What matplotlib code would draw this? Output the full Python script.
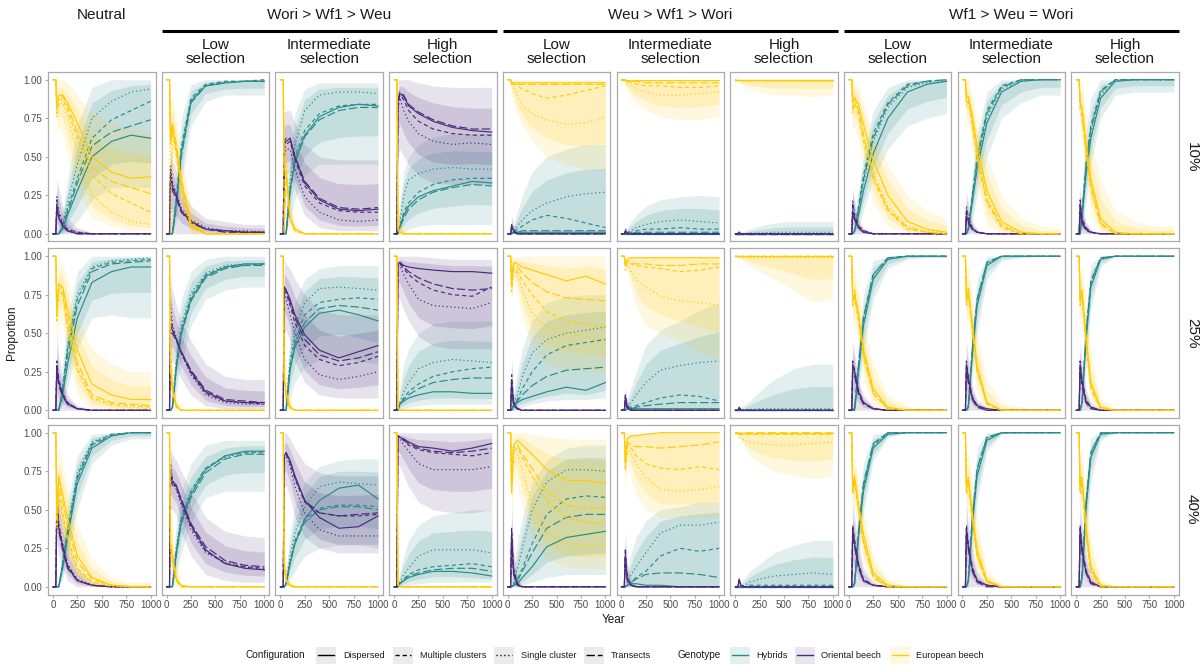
import numpy as np
import matplotlib
matplotlib.use("Agg")
import matplotlib.pyplot as plt
from matplotlib.patches import Rectangle

plt.rcParams["font.family"] = ["Liberation Sans", "DejaVu Sans"]
plt.rcParams["lines.scale_dashes"] = False

# simulation years at which the mean proportions were taken
years = [0, 30, 40, 60, 100, 150, 250, 400, 600, 800, 1000]

# each genotype block holds: Dispersed, Multiple clusters, Single cluster,
# Transects, then the lower and upper edge of the replicate spread

# ---------------- 10 % ----------------
neu_10_hyb = [
    [0, 0, 0, 0, 0.03, 0.12, 0.28, 0.50, 0.60, 0.64, 0.62],
    [0, 0, 0, 0, 0.05, 0.16, 0.36, 0.62, 0.74, 0.80, 0.86],
    [0, 0, 0, 0, 0.06, 0.20, 0.45, 0.75, 0.86, 0.92, 0.94],
    [0, 0, 0, 0, 0.04, 0.14, 0.33, 0.57, 0.66, 0.70, 0.74],
    [0, 0, 0, 0, 0, 0.02, 0.08, 0.22, 0.30, 0.30, 0.30],
    [0, 0, 0, 0.04, 0.15, 0.35, 0.70, 0.95, 1, 1, 1],
]
neu_10_ori = [
    [0, 0, 0.18, 0.10, 0.05, 0.02, 0, 0, 0, 0, 0],
    [0, 0, 0.22, 0.13, 0.06, 0.03, 0.01, 0, 0, 0, 0],
    [0, 0, 0.24, 0.15, 0.08, 0.03, 0.01, 0, 0, 0, 0],
    [0, 0, 0.15, 0.11, 0.05, 0.02, 0, 0, 0, 0, 0],
    [0, 0, 0, 0, 0, 0, 0, 0, 0, 0, 0],
    [0, 0, 0.35, 0.30, 0.18, 0.10, 0.04, 0.01, 0, 0, 0],
]
neu_10_eur = [
    [1, 1, 0.82, 0.90, 0.90, 0.85, 0.72, 0.50, 0.40, 0.36, 0.37],
    [1, 1, 0.78, 0.86, 0.88, 0.80, 0.62, 0.38, 0.26, 0.20, 0.14],
    [1, 1, 0.76, 0.84, 0.85, 0.76, 0.54, 0.25, 0.14, 0.08, 0.06],
    [1, 1, 0.85, 0.88, 0.90, 0.83, 0.66, 0.43, 0.34, 0.30, 0.26],
    [1, 1, 0.65, 0.70, 0.65, 0.50, 0.28, 0.10, 0.05, 0.02, 0.02],
    [1, 1, 1, 1, 1, 0.98, 0.90, 0.78, 0.72, 0.68, 0.66],
]

wori_lo_10_hyb = [
    [0, 0, 0, 0, 0.20, 0.52, 0.86, 0.96, 0.98, 0.99, 0.99],
    [0, 0, 0, 0.01, 0.24, 0.56, 0.88, 0.97, 0.99, 0.99, 1],
    [0, 0, 0, 0.01, 0.22, 0.54, 0.87, 0.96, 0.98, 0.99, 0.99],
    [0, 0, 0, 0, 0.18, 0.50, 0.85, 0.96, 0.98, 0.99, 0.99],
    [0, 0, 0, 0, 0.08, 0.32, 0.70, 0.86, 0.90, 0.90, 0.90],
    [0, 0, 0, 0.08, 0.40, 0.75, 0.97, 1, 1, 1, 1],
]
wori_lo_10_ori = [
    [0, 0, 0.40, 0.30, 0.25, 0.15, 0.08, 0.03, 0.02, 0.01, 0.01],
    [0, 0, 0.42, 0.32, 0.24, 0.15, 0.08, 0.03, 0.02, 0.01, 0.01],
    [0, 0, 0.45, 0.34, 0.26, 0.17, 0.09, 0.04, 0.02, 0.02, 0.01],
    [0, 0, 0.36, 0.28, 0.23, 0.14, 0.07, 0.03, 0.01, 0.01, 0.01],
    [0, 0, 0, 0, 0, 0, 0, 0, 0, 0, 0],
    [0, 0, 0.55, 0.48, 0.40, 0.30, 0.18, 0.10, 0.08, 0.06, 0.06],
]
wori_lo_10_eur = [
    [1, 1, 0.60, 0.70, 0.55, 0.33, 0.06, 0, 0, 0, 0],
    [1, 1, 0.58, 0.68, 0.52, 0.29, 0.04, 0, 0, 0, 0],
    [1, 1, 0, 0.66, 0.53, 0.30, 0.04, 0, 0, 0, 0],
    [1, 1, 0.62, 0.72, 0.58, 0.36, 0.07, 0, 0, 0, 0],
    [1, 1, 0.30, 0.50, 0.35, 0.15, 0, 0, 0, 0, 0],
    [1, 1, 0.85, 0.88, 0.75, 0.52, 0.18, 0.02, 0, 0, 0],
]

wori_mid_10_hyb = [
    [0, 0, 0, 0, 0.28, 0.47, 0.64, 0.76, 0.82, 0.84, 0.83],
    [0, 0, 0, 0, 0.30, 0.50, 0.67, 0.78, 0.83, 0.84, 0.84],
    [0, 0, 0, 0.02, 0.35, 0.58, 0.80, 0.90, 0.92, 0.92, 0.91],
    [0, 0, 0, 0, 0.27, 0.46, 0.63, 0.74, 0.80, 0.82, 0.82],
    [0, 0, 0, 0, 0.10, 0.22, 0.38, 0.45, 0.45, 0.45, 0.45],
    [0, 0, 0, 0.15, 0.55, 0.78, 0.94, 0.98, 0.98, 0.98, 0.98],
]
wori_mid_10_ori = [
    [0, 0, 0.58, 0.60, 0.62, 0.50, 0.33, 0.22, 0.16, 0.15, 0.16],
    [0, 0, 0.55, 0.58, 0.60, 0.48, 0.31, 0.20, 0.15, 0.14, 0.14],
    [0, 0, 0.50, 0.55, 0.55, 0.42, 0.24, 0.14, 0.09, 0.08, 0.09],
    [0, 0, 0.60, 0.62, 0.62, 0.50, 0.34, 0.23, 0.17, 0.16, 0.17],
    [0, 0, 0.35, 0.38, 0.40, 0.28, 0.12, 0.04, 0.02, 0.02, 0.02],
    [0, 0, 0.78, 0.80, 0.80, 0.72, 0.58, 0.50, 0.48, 0.48, 0.48],
]
wori_mid_10_eur = [
    [1, 1, 0.42, 0.40, 0.10, 0.03, 0, 0, 0, 0, 0],
    [1, 1, 0.45, 0.42, 0.10, 0.02, 0, 0, 0, 0, 0],
    [1, 1, 0.50, 0.43, 0.10, 0.02, 0, 0, 0, 0, 0],
    [1, 1, 0, 0.38, 0.11, 0.03, 0, 0, 0, 0, 0],
    [1, 1, 0.20, 0.20, 0.02, 0, 0, 0, 0, 0, 0],
    [1, 1, 0.70, 0.60, 0.25, 0.06, 0, 0, 0, 0, 0],
]

wori_hi_10_hyb = [
    [0, 0, 0, 0.04, 0.12, 0.18, 0.24, 0.28, 0.31, 0.34, 0.33],
    [0, 0, 0, 0.05, 0.14, 0.20, 0.27, 0.32, 0.35, 0.36, 0.36],
    [0, 0, 0, 0.07, 0.25, 0.35, 0.39, 0.42, 0.43, 0.42, 0.42],
    [0, 0, 0, 0.04, 0.10, 0.16, 0.22, 0.27, 0.30, 0.32, 0.31],
    [0, 0, 0, 0, 0.01, 0.03, 0.05, 0.06, 0.06, 0.06, 0.06],
    [0, 0, 0, 0.22, 0.40, 0.50, 0.58, 0.63, 0.65, 0.65, 0.65],
]
wori_hi_10_ori = [
    [0, 0, 0.86, 0.91, 0.89, 0.83, 0.78, 0.73, 0.69, 0.67, 0.66],
    [0, 0, 0.84, 0.90, 0.87, 0.80, 0.73, 0.68, 0.65, 0.64, 0.64],
    [0, 0, 0.80, 0.88, 0.80, 0.73, 0.65, 0.60, 0.58, 0.59, 0.58],
    [0, 0, 0.86, 0.92, 0.90, 0.84, 0.79, 0.74, 0.70, 0.68, 0.68],
    [0, 0, 0.50, 0.55, 0.50, 0.45, 0.38, 0.33, 0.32, 0.32, 0.32],
    [0, 0, 1, 1, 1, 1, 0.98, 0.96, 0.95, 0.95, 0.95],
]
wori_hi_10_eur = [
    [1, 1, 0.05, 0.01, 0, 0, 0, 0, 0, 0, 0],
    [1, 1, 0.04, 0.01, 0, 0, 0, 0, 0, 0, 0],
    [1, 1, 0.15, 0.05, 0, 0, 0, 0, 0, 0, 0],
    [1, 1, 0.03, 0, 0, 0, 0, 0, 0, 0, 0],
    [1, 1, 0, 0, 0, 0, 0, 0, 0, 0, 0],
    [1, 1, 0.30, 0.10, 0, 0, 0, 0, 0, 0, 0],
]

weu_lo_10_hyb = [
    [0, 0, 0, 0.01, 0.01, 0.01, 0.01, 0.01, 0.01, 0.01, 0.01],
    [0, 0, 0, 0.01, 0.03, 0.05, 0.09, 0.12, 0.10, 0.07, 0.04],
    [0, 0, 0, 0.02, 0.05, 0.09, 0.15, 0.20, 0.24, 0.26, 0.27],
    [0, 0, 0, 0.01, 0.01, 0.02, 0.02, 0.02, 0.02, 0.02, 0.02],
    [0, 0, 0, 0, 0, 0, 0, 0, 0, 0, 0],
    [0, 0, 0, 0.06, 0.15, 0.25, 0.40, 0.50, 0.55, 0.58, 0.58],
]
weu_lo_10_ori = [
    [0, 0, 0.06, 0.02, 0, 0, 0, 0, 0, 0, 0],
    [0, 0, 0.04, 0.01, 0, 0, 0, 0, 0, 0, 0],
    [0, 0, 0.05, 0.02, 0, 0, 0, 0, 0, 0, 0],
    [0, 0, 0.03, 0.01, 0, 0, 0, 0, 0, 0, 0],
    [0, 0, 0, 0, 0, 0, 0, 0, 0, 0, 0],
    [0, 0, 0.12, 0.06, 0.02, 0, 0, 0, 0, 0, 0],
]
weu_lo_10_eur = [
    [1, 1, 0.97, 0.98, 0.98, 0.98, 0.98, 0.98, 0.98, 0.98, 0.98],
    [1, 1, 0.98, 0.97, 0.96, 0.94, 0.91, 0.88, 0.90, 0.93, 0.96],
    [1, 1, 0.97, 0.95, 0.89, 0.83, 0.78, 0.74, 0.71, 0.72, 0.76],
    [1, 1, 0.98, 0.98, 0.97, 0.97, 0.97, 0.97, 0.97, 0.97, 0.97],
    [1, 1, 0.90, 0.85, 0.78, 0.70, 0.60, 0.50, 0.45, 0.42, 0.42],
    [1, 1, 1, 1, 1, 1, 1, 1, 1, 1, 1],
]

weu_mid_10_hyb = [
    [0, 0, 0, 0, 0, 0, 0, 0, 0, 0, 0],
    [0, 0, 0, 0, 0.01, 0.02, 0.03, 0.03, 0.04, 0.03, 0.03],
    [0, 0, 0, 0.01, 0.02, 0.04, 0.06, 0.08, 0.09, 0.08, 0.07],
    [0, 0, 0, 0, 0, 0.01, 0.01, 0.01, 0.01, 0.01, 0.01],
    [0, 0, 0, 0, 0, 0, 0, 0, 0, 0, 0],
    [0, 0, 0, 0.04, 0.08, 0.12, 0.18, 0.22, 0.24, 0.25, 0.24],
]
weu_mid_10_ori = [
    [0, 0, 0.02, 0, 0, 0, 0, 0, 0, 0, 0],
    [0, 0, 0.02, 0, 0, 0, 0, 0, 0, 0, 0],
    [0, 0, 0.03, 0.01, 0, 0, 0, 0, 0, 0, 0],
    [0, 0, 0.01, 0, 0, 0, 0, 0, 0, 0, 0],
    [0, 0, 0, 0, 0, 0, 0, 0, 0, 0, 0],
    [0, 0, 0.05, 0.02, 0, 0, 0, 0, 0, 0, 0],
]
weu_mid_10_eur = [
    [1, 1, 1, 1, 1, 1, 1, 1, 1, 1, 1],
    [1, 1, 0.99, 0.99, 0.98, 0.97, 0.96, 0.96, 0.95, 0.95, 0.96],
    [1, 1, 0.99, 0.97, 0.96, 0.94, 0.92, 0.90, 0.90, 0.91, 0.92],
    [1, 1, 1, 0.99, 0.99, 0.99, 0.98, 0.98, 0.98, 0.98, 0.98],
    [1, 1, 0.97, 0.93, 0.88, 0.85, 0.80, 0.76, 0.74, 0.74, 0.76],
    [1, 1, 1, 1, 1, 1, 1, 1, 1, 1, 1],
]

weu_hi_10_hyb = [
    [0, 0, 0, 0, 0, 0, 0, 0, 0, 0, 0],
    [0, 0, 0, 0, 0, 0, 0, 0, 0, 0, 0],
    [0, 0, 0, 0, 0, 0.005, 0.005, 0.01, 0.01, 0.01, 0.01],
    [0, 0, 0, 0, 0, 0, 0, 0, 0, 0, 0],
    [0, 0, 0, 0, 0, 0, 0, 0, 0, 0, 0],
    [0, 0, 0, 0.01, 0.02, 0.03, 0.05, 0.07, 0.08, 0.08, 0.08],
]
weu_hi_10_ori = [
    [0, 0, 0.01, 0, 0, 0, 0, 0, 0, 0, 0],
    [0, 0, 0.01, 0, 0, 0, 0, 0, 0, 0, 0],
    [0, 0, 0.01, 0, 0, 0, 0, 0, 0, 0, 0],
    [0, 0, 0, 0, 0, 0, 0, 0, 0, 0, 0],
    [0, 0, 0, 0, 0, 0, 0, 0, 0, 0, 0],
    [0, 0, 0.03, 0.01, 0, 0, 0, 0, 0, 0, 0],
]
weu_hi_10_eur = [
    [1, 1, 1, 1, 1, 1, 1, 1, 1, 1, 1],
    [1, 1, 1, 1, 1, 1, 1, 1, 1, 1, 1],
    [1, 1, 1, 0.99, 0.99, 0.99, 0.99, 0.99, 0.99, 0.99, 0.99],
    [1, 1, 1, 1, 1, 1, 1, 1, 1, 1, 1],
    [1, 1, 0.98, 0.97, 0.95, 0.94, 0.92, 0.90, 0.90, 0.89, 0.90],
    [1, 1, 1, 1, 1, 1, 1, 1, 1, 1, 1],
]

wf1_lo_10_hyb = [
    [0, 0, 0, 0.02, 0.12, 0.28, 0.52, 0.75, 0.92, 0.97, 0.99],
    [0, 0, 0, 0.03, 0.18, 0.38, 0.65, 0.85, 0.97, 0.99, 1],
    [0, 0, 0, 0.02, 0.15, 0.33, 0.60, 0.82, 0.95, 0.98, 0.99],
    [0, 0, 0, 0.02, 0.16, 0.35, 0.62, 0.84, 0.96, 0.99, 1],
    [0, 0, 0, 0, 0.05, 0.15, 0.35, 0.55, 0.70, 0.75, 0.78],
    [0, 0, 0, 0.08, 0.30, 0.50, 0.80, 0.95, 1, 1, 1],
]
wf1_lo_10_ori = [
    [0, 0, 0.15, 0.10, 0.04, 0.01, 0, 0, 0, 0, 0],
    [0, 0, 0.20, 0.12, 0.05, 0.02, 0, 0, 0, 0, 0],
    [0, 0, 0.22, 0.13, 0.05, 0.02, 0, 0, 0, 0, 0],
    [0, 0, 0.12, 0.09, 0.04, 0.01, 0, 0, 0, 0, 0],
    [0, 0, 0, 0, 0, 0, 0, 0, 0, 0, 0],
    [0, 0, 0.30, 0.22, 0.10, 0.04, 0.01, 0, 0, 0, 0],
]
wf1_lo_10_eur = [
    [1, 1, 0.85, 0.88, 0.84, 0.71, 0.48, 0.25, 0.08, 0.03, 0.01],
    [1, 1, 0.80, 0.85, 0.77, 0.60, 0.35, 0.15, 0.03, 0.01, 0],
    [1, 1, 0.78, 0.85, 0.80, 0.65, 0.40, 0.18, 0.05, 0.02, 0.01],
    [1, 1, 0.88, 0.89, 0.80, 0.64, 0.38, 0.16, 0.04, 0.01, 0],
    [1, 1, 0.65, 0.70, 0.60, 0.45, 0.20, 0.05, 0, 0, 0],
    [1, 1, 1, 1, 0.95, 0.85, 0.65, 0.45, 0.25, 0.15, 0.10],
]

wf1_mid_10_hyb = [
    [0, 0, 0, 0.03, 0.20, 0.42, 0.72, 0.92, 0.99, 1, 1],
    [0, 0, 0, 0.04, 0.25, 0.50, 0.80, 0.96, 1, 1, 1],
    [0, 0, 0, 0.03, 0.22, 0.45, 0.75, 0.94, 0.99, 1, 1],
    [0, 0, 0, 0.04, 0.24, 0.48, 0.78, 0.95, 1, 1, 1],
    [0, 0, 0, 0, 0.08, 0.25, 0.50, 0.75, 0.85, 0.90, 0.90],
    [0, 0, 0, 0.10, 0.40, 0.65, 0.92, 1, 1, 1, 1],
]
wf1_mid_10_ori = [
    [0, 0, 0.12, 0.08, 0.03, 0.01, 0, 0, 0, 0, 0],
    [0, 0, 0.16, 0.10, 0.04, 0.01, 0, 0, 0, 0, 0],
    [0, 0, 0.18, 0.11, 0.04, 0.01, 0, 0, 0, 0, 0],
    [0, 0, 0.10, 0.07, 0.03, 0.01, 0, 0, 0, 0, 0],
    [0, 0, 0, 0, 0, 0, 0, 0, 0, 0, 0],
    [0, 0, 0.28, 0.20, 0.08, 0.03, 0, 0, 0, 0, 0],
]
wf1_mid_10_eur = [
    [1, 1, 0.88, 0.89, 0.77, 0.57, 0.28, 0.08, 0.01, 0, 0],
    [1, 1, 0.84, 0.86, 0.71, 0.49, 0.20, 0.04, 0, 0, 0],
    [1, 1, 0.82, 0.86, 0.74, 0.54, 0.25, 0.06, 0.01, 0, 0],
    [1, 1, 0.90, 0.89, 0.73, 0.51, 0.22, 0.05, 0, 0, 0],
    [1, 1, 0.70, 0.72, 0.55, 0.30, 0.06, 0, 0, 0, 0],
    [1, 1, 1, 1, 0.90, 0.75, 0.50, 0.25, 0.10, 0.05, 0.03],
]

wf1_hi_10_hyb = [
    [0, 0, 0, 0.10, 0.38, 0.62, 0.88, 0.99, 1, 1, 1],
    [0, 0, 0, 0.14, 0.45, 0.70, 0.93, 1, 1, 1, 1],
    [0, 0, 0, 0.12, 0.42, 0.66, 0.90, 0.99, 1, 1, 1],
    [0, 0, 0, 0.13, 0.44, 0.68, 0.92, 1, 1, 1, 1],
    [0, 0, 0, 0.02, 0.20, 0.45, 0.75, 0.90, 0.92, 0.92, 0.92],
    [0, 0, 0, 0.30, 0.65, 0.88, 1, 1, 1, 1, 1],
]
wf1_hi_10_ori = [
    [0, 0, 0.18, 0.08, 0.03, 0.01, 0, 0, 0, 0, 0],
    [0, 0, 0.22, 0.10, 0.04, 0.01, 0, 0, 0, 0, 0],
    [0, 0, 0.20, 0.09, 0.03, 0.01, 0, 0, 0, 0, 0],
    [0, 0, 0.14, 0.07, 0.02, 0.01, 0, 0, 0, 0, 0],
    [0, 0, 0, 0, 0, 0, 0, 0, 0, 0, 0],
    [0, 0, 0.32, 0.18, 0.08, 0.03, 0, 0, 0, 0, 0],
]
wf1_hi_10_eur = [
    [1, 1, 0.85, 0.82, 0.60, 0.36, 0.10, 0.01, 0, 0, 0],
    [1, 1, 0.80, 0.76, 0.52, 0.29, 0.06, 0, 0, 0, 0],
    [1, 1, 0.82, 0.79, 0.56, 0.33, 0.09, 0.01, 0, 0, 0],
    [1, 1, 0.86, 0.80, 0.54, 0.31, 0.07, 0, 0, 0, 0],
    [1, 1, 0.65, 0.60, 0.35, 0.12, 0, 0, 0, 0, 0],
    [1, 1, 1, 0.98, 0.80, 0.60, 0.35, 0.15, 0.08, 0.05, 0.05],
]

# ---------------- 25 % ----------------
neu_25_hyb = [
    [0, 0, 0, 0, 0.10, 0.30, 0.60, 0.83, 0.90, 0.93, 0.93],
    [0, 0, 0, 0, 0.14, 0.40, 0.72, 0.92, 0.96, 0.97, 0.98],
    [0, 0, 0, 0, 0.15, 0.42, 0.75, 0.93, 0.97, 0.98, 0.99],
    [0, 0, 0, 0, 0.12, 0.36, 0.68, 0.90, 0.95, 0.96, 0.97],
    [0, 0, 0, 0, 0.03, 0.15, 0.40, 0.60, 0.62, 0.60, 0.60],
    [0, 0, 0, 0.05, 0.30, 0.60, 0.90, 1, 1, 1, 1],
]
neu_25_ori = [
    [0, 0, 0.28, 0.18, 0.10, 0.04, 0.01, 0, 0, 0, 0],
    [0, 0, 0.32, 0.20, 0.11, 0.05, 0.01, 0, 0, 0, 0],
    [0, 0, 0.30, 0.19, 0.10, 0.05, 0.01, 0, 0, 0, 0],
    [0, 0, 0.25, 0.16, 0.09, 0.04, 0.01, 0, 0, 0, 0],
    [0, 0, 0, 0, 0, 0, 0, 0, 0, 0, 0],
    [0, 0, 0.50, 0.35, 0.20, 0.10, 0.03, 0.01, 0, 0, 0],
]
neu_25_eur = [
    [1, 1, 0.62, 0.82, 0.80, 0.66, 0.39, 0.17, 0.10, 0.07, 0.07],
    [1, 1, 0.58, 0.78, 0.75, 0.55, 0.27, 0.08, 0.04, 0.03, 0.02],
    [1, 1, 0.60, 0.80, 0.75, 0.53, 0.25, 0.07, 0.03, 0.02, 0.01],
    [1, 1, 0.65, 0.82, 0.79, 0.60, 0.31, 0.10, 0.05, 0.04, 0.03],
    [1, 1, 0.40, 0.60, 0.55, 0.35, 0.10, 0.01, 0, 0, 0],
    [1, 1, 0.85, 0.98, 0.95, 0.85, 0.60, 0.40, 0.30, 0.25, 0.25],
]

wori_lo_25_hyb = [
    [0, 0, 0, 0.02, 0.28, 0.50, 0.72, 0.87, 0.93, 0.95, 0.95],
    [0, 0, 0, 0.02, 0.30, 0.52, 0.74, 0.88, 0.93, 0.94, 0.95],
    [0, 0, 0, 0.03, 0.32, 0.55, 0.76, 0.89, 0.94, 0.95, 0.95],
    [0, 0, 0, 0.02, 0.27, 0.49, 0.71, 0.86, 0.92, 0.94, 0.94],
    [0, 0, 0, 0, 0.12, 0.30, 0.55, 0.72, 0.78, 0.80, 0.80],
    [0, 0, 0, 0.10, 0.50, 0.72, 0.90, 0.98, 1, 1, 1],
]
wori_lo_25_ori = [
    [0, 0, 0.55, 0.52, 0.46, 0.38, 0.25, 0.12, 0.06, 0.05, 0.05],
    [0, 0, 0.60, 0.54, 0.46, 0.37, 0.24, 0.11, 0.06, 0.05, 0.04],
    [0, 0, 0.70, 0.56, 0.47, 0.37, 0.23, 0.10, 0.05, 0.04, 0.04],
    [0, 0, 0.50, 0.50, 0.45, 0.38, 0.26, 0.13, 0.07, 0.06, 0.05],
    [0, 0, 0.30, 0.32, 0.28, 0.20, 0.10, 0.03, 0.01, 0.01, 0.01],
    [0, 0, 0.85, 0.78, 0.68, 0.58, 0.45, 0.30, 0.22, 0.20, 0.20],
]
wori_lo_25_eur = [
    [1, 1, 0.30, 0.14, 0.03, 0, 0, 0, 0, 0, 0],
    [1, 1, 0.28, 0.12, 0.02, 0, 0, 0, 0, 0, 0],
    [1, 1, 0.42, 0.16, 0.03, 0, 0, 0, 0, 0, 0],
    [1, 1, 0.25, 0.12, 0.02, 0, 0, 0, 0, 0, 0],
    [1, 1, 0.10, 0.02, 0, 0, 0, 0, 0, 0, 0],
    [1, 1, 0.55, 0.30, 0.08, 0.01, 0, 0, 0, 0, 0],
]

wori_mid_25_hyb = [
    [0, 0, 0, 0, 0.26, 0.41, 0.54, 0.63, 0.65, 0.62, 0.58],
    [0, 0, 0, 0.01, 0.30, 0.46, 0.62, 0.70, 0.72, 0.73, 0.72],
    [0, 0, 0, 0.02, 0.33, 0.52, 0.70, 0.79, 0.80, 0.79, 0.78],
    [0, 0, 0, 0, 0.27, 0.43, 0.57, 0.66, 0.68, 0.67, 0.65],
    [0, 0, 0, 0, 0.08, 0.18, 0.28, 0.33, 0.34, 0.32, 0.30],
    [0, 0, 0, 0.10, 0.50, 0.70, 0.85, 0.92, 0.94, 0.94, 0.94],
]
wori_mid_25_ori = [
    [0, 0, 0.80, 0.78, 0.72, 0.62, 0.49, 0.39, 0.34, 0.38, 0.42],
    [0, 0, 0.78, 0.76, 0.68, 0.57, 0.42, 0.33, 0.29, 0.31, 0.35],
    [0, 0, 0.75, 0.72, 0.62, 0.50, 0.33, 0.23, 0.20, 0.22, 0.25],
    [0, 0, 0.80, 0.78, 0.70, 0.60, 0.46, 0.36, 0.32, 0.34, 0.38],
    [0, 0, 0.50, 0.52, 0.45, 0.32, 0.18, 0.10, 0.08, 0.08, 0.08],
    [0, 0, 0.98, 0.95, 0.92, 0.85, 0.75, 0.65, 0.62, 0.62, 0.62],
]
wori_mid_25_eur = [
    [1, 1, 0.20, 0.12, 0.02, 0, 0, 0, 0, 0, 0],
    [1, 1, 0.22, 0.10, 0.02, 0, 0, 0, 0, 0, 0],
    [1, 1, 0.25, 0.12, 0.02, 0, 0, 0, 0, 0, 0],
    [1, 1, 0.20, 0.08, 0.01, 0, 0, 0, 0, 0, 0],
    [1, 1, 0.05, 0, 0, 0, 0, 0, 0, 0, 0],
    [1, 1, 0.45, 0.30, 0.06, 0, 0, 0, 0, 0, 0],
]

wori_hi_25_hyb = [
    [0, 0, 0, 0.04, 0.06, 0.08, 0.10, 0.12, 0.12, 0.11, 0.11],
    [0, 0, 0, 0.04, 0.08, 0.12, 0.17, 0.22, 0.25, 0.27, 0.28],
    [0, 0, 0, 0.05, 0.12, 0.18, 0.27, 0.31, 0.33, 0.32, 0.31],
    [0, 0, 0, 0.04, 0.07, 0.10, 0.14, 0.18, 0.20, 0.21, 0.21],
    [0, 0, 0, 0, 0.01, 0.02, 0.03, 0.04, 0.04, 0.04, 0.04],
    [0, 0, 0, 0.15, 0.30, 0.40, 0.50, 0.56, 0.58, 0.58, 0.58],
]
wori_hi_25_ori = [
    [0, 0, 0.95, 0.96, 0.94, 0.93, 0.92, 0.91, 0.90, 0.90, 0.89],
    [0, 0, 0.95, 0.95, 0.92, 0.88, 0.83, 0.78, 0.75, 0.74, 0.80],
    [0, 0, 0.94, 0.94, 0.88, 0.82, 0.72, 0.68, 0.67, 0.66, 0.70],
    [0, 0, 0.95, 0.96, 0.93, 0.90, 0.86, 0.82, 0.79, 0.78, 0.79],
    [0, 0, 0.70, 0.72, 0.65, 0.58, 0.48, 0.42, 0.40, 0.40, 0.40],
    [0, 0, 1, 1, 1, 1, 1, 0.99, 0.98, 0.98, 0.98],
]
wori_hi_25_eur = [
    [1, 1, 0.02, 0, 0, 0, 0, 0, 0, 0, 0],
    [1, 1, 0.02, 0, 0, 0, 0, 0, 0, 0, 0],
    [1, 1, 0.03, 0, 0, 0, 0, 0, 0, 0, 0],
    [1, 1, 0.01, 0, 0, 0, 0, 0, 0, 0, 0],
    [1, 1, 0, 0, 0, 0, 0, 0, 0, 0, 0],
    [1, 1, 0.10, 0.02, 0, 0, 0, 0, 0, 0, 0],
]

weu_lo_25_hyb = [
    [0, 0, 0, 0.03, 0.05, 0.07, 0.09, 0.12, 0.15, 0.13, 0.18],
    [0, 0, 0, 0.03, 0.07, 0.14, 0.25, 0.36, 0.42, 0.44, 0.46],
    [0, 0, 0, 0.04, 0.10, 0.22, 0.37, 0.46, 0.50, 0.52, 0.54],
    [0, 0, 0, 0.03, 0.06, 0.10, 0.16, 0.22, 0.26, 0.27, 0.28],
    [0, 0, 0, 0, 0.01, 0.02, 0.04, 0.06, 0.07, 0.07, 0.08],
    [0, 0, 0.02, 0.12, 0.25, 0.40, 0.58, 0.70, 0.74, 0.75, 0.75],
]
weu_lo_25_ori = [
    [0, 0, 0.20, 0.04, 0.01, 0, 0, 0, 0, 0, 0],
    [0, 0, 0.23, 0.05, 0.01, 0, 0, 0, 0, 0, 0],
    [0, 0, 0.18, 0.04, 0.01, 0, 0, 0, 0, 0, 0],
    [0, 0, 0.15, 0.03, 0.01, 0, 0, 0, 0, 0, 0],
    [0, 0, 0, 0, 0, 0, 0, 0, 0, 0, 0],
    [0, 0, 0.35, 0.10, 0.03, 0, 0, 0, 0, 0, 0],
]
weu_lo_25_eur = [
    [1, 1, 0.80, 0.96, 0.95, 0.93, 0.91, 0.88, 0.84, 0.87, 0.82],
    [1, 1, 0.77, 0.92, 0.90, 0.84, 0.75, 0.64, 0.58, 0.56, 0.54],
    [1, 1, 0.82, 0.92, 0.88, 0.78, 0.63, 0.54, 0.50, 0.48, 0.46],
    [1, 1, 0.85, 0.95, 0.93, 0.89, 0.83, 0.77, 0.73, 0.72, 0.71],
    [1, 1, 0.70, 0.85, 0.75, 0.60, 0.42, 0.30, 0.26, 0.25, 0.25],
    [1, 1, 1, 1, 1, 1, 1, 1, 1, 1, 1],
]

weu_mid_25_hyb = [
    [0, 0, 0, 0.01, 0.01, 0.01, 0.01, 0.01, 0.01, 0.01, 0.01],
    [0, 0, 0, 0.01, 0.02, 0.03, 0.05, 0.08, 0.10, 0.09, 0.06],
    [0, 0, 0, 0.02, 0.05, 0.10, 0.18, 0.26, 0.29, 0.31, 0.32],
    [0, 0, 0, 0.01, 0.01, 0.02, 0.03, 0.04, 0.05, 0.05, 0.05],
    [0, 0, 0, 0, 0, 0, 0, 0, 0, 0, 0],
    [0, 0, 0.02, 0.08, 0.15, 0.25, 0.42, 0.52, 0.58, 0.65, 0.70],
]
weu_mid_25_ori = [
    [0, 0, 0.08, 0.02, 0, 0, 0, 0, 0, 0, 0],
    [0, 0, 0.10, 0.02, 0, 0, 0, 0, 0, 0, 0],
    [0, 0, 0.09, 0.03, 0.01, 0, 0, 0, 0, 0, 0],
    [0, 0, 0.06, 0.01, 0, 0, 0, 0, 0, 0, 0],
    [0, 0, 0, 0, 0, 0, 0, 0, 0, 0, 0],
    [0, 0, 0.15, 0.06, 0.02, 0, 0, 0, 0, 0, 0],
]
weu_mid_25_eur = [
    [1, 1, 0.95, 0.98, 0.99, 0.99, 0.99, 0.99, 0.99, 0.99, 0.99],
    [1, 1, 0.93, 0.96, 0.95, 0.94, 0.93, 0.92, 0.90, 0.91, 0.93],
    [1, 1, 0.90, 0.94, 0.90, 0.85, 0.80, 0.74, 0.71, 0.70, 0.68],
    [1, 1, 0.94, 0.97, 0.96, 0.95, 0.95, 0.94, 0.94, 0.95, 0.95],
    [1, 1, 0.95, 0.90, 0.80, 0.68, 0.55, 0.50, 0.45, 0.38, 0.33],
    [1, 1, 1, 1, 1, 1, 1, 1, 1, 1, 1],
]

weu_hi_25_hyb = [
    [0, 0, 0, 0, 0, 0, 0, 0, 0, 0, 0],
    [0, 0, 0, 0, 0, 0, 0, 0, 0, 0, 0],
    [0, 0, 0, 0, 0.005, 0.005, 0.01, 0.01, 0.01, 0.01, 0.01],
    [0, 0, 0, 0, 0, 0, 0, 0, 0, 0, 0],
    [0, 0, 0, 0, 0, 0, 0, 0, 0, 0, 0],
    [0, 0, 0, 0.02, 0.04, 0.06, 0.12, 0.20, 0.27, 0.30, 0.30],
]
weu_hi_25_ori = [
    [0, 0, 0.02, 0, 0, 0, 0, 0, 0, 0, 0],
    [0, 0, 0.02, 0, 0, 0, 0, 0, 0, 0, 0],
    [0, 0, 0.02, 0, 0, 0, 0, 0, 0, 0, 0],
    [0, 0, 0.01, 0, 0, 0, 0, 0, 0, 0, 0],
    [0, 0, 0, 0, 0, 0, 0, 0, 0, 0, 0],
    [0, 0, 0.04, 0.01, 0, 0, 0, 0, 0, 0, 0],
]
weu_hi_25_eur = [
    [1, 1, 1, 1, 1, 1, 1, 1, 1, 1, 1],
    [1, 1, 0.99, 1, 1, 1, 1, 1, 1, 1, 1],
    [1, 1, 0.99, 0.99, 0.99, 0.99, 0.99, 0.99, 0.99, 0.99, 0.99],
    [1, 1, 1, 1, 1, 1, 1, 1, 1, 1, 1],
    [1, 1, 1, 0.98, 0.96, 0.94, 0.90, 0.85, 0.78, 0.70, 0.72],
    [1, 1, 1, 1, 1, 1, 1, 1, 1, 1, 1],
]

wf1_lo_25_hyb = [
    [0, 0, 0, 0, 0.25, 0.55, 0.85, 0.98, 1, 1, 1],
    [0, 0, 0, 0.02, 0.30, 0.60, 0.88, 0.99, 1, 1, 1],
    [0, 0, 0, 0.01, 0.27, 0.57, 0.86, 0.98, 1, 1, 1],
    [0, 0, 0, 0.02, 0.30, 0.60, 0.88, 0.99, 1, 1, 1],
    [0, 0, 0, 0, 0.12, 0.38, 0.72, 0.92, 0.98, 0.99, 0.99],
    [0, 0, 0, 0.08, 0.45, 0.75, 0.97, 1, 1, 1, 1],
]
wf1_lo_25_ori = [
    [0, 0, 0.30, 0.25, 0.12, 0.05, 0.01, 0, 0, 0, 0],
    [0, 0, 0.32, 0.26, 0.13, 0.05, 0.01, 0, 0, 0, 0],
    [0, 0, 0.28, 0.24, 0.12, 0.05, 0.01, 0, 0, 0, 0],
    [0, 0, 0.25, 0.22, 0.10, 0.04, 0.01, 0, 0, 0, 0],
    [0, 0, 0, 0, 0, 0, 0, 0, 0, 0, 0],
    [0, 0, 0.45, 0.38, 0.20, 0.10, 0.03, 0, 0, 0, 0],
]
wf1_lo_25_eur = [
    [1, 1, 0.70, 0.75, 0.63, 0.40, 0.14, 0.02, 0, 0, 0],
    [1, 1, 0.68, 0.73, 0.57, 0.35, 0.11, 0.01, 0, 0, 0],
    [1, 1, 0.72, 0.75, 0.61, 0.38, 0.13, 0.02, 0, 0, 0],
    [1, 1, 0.75, 0.78, 0.60, 0.36, 0.11, 0.01, 0, 0, 0],
    [1, 1, 0.50, 0.58, 0.42, 0.20, 0.03, 0, 0, 0, 0],
    [1, 1, 0.90, 0.92, 0.80, 0.58, 0.30, 0.10, 0.03, 0.01, 0],
]

wf1_mid_25_hyb = [
    [0, 0, 0, 0.02, 0.35, 0.68, 0.94, 1, 1, 1, 1],
    [0, 0, 0, 0.03, 0.40, 0.72, 0.96, 1, 1, 1, 1],
    [0, 0, 0, 0.02, 0.37, 0.70, 0.95, 1, 1, 1, 1],
    [0, 0, 0, 0.03, 0.40, 0.72, 0.96, 1, 1, 1, 1],
    [0, 0, 0, 0, 0.20, 0.50, 0.85, 0.97, 0.99, 1, 1],
    [0, 0, 0, 0.10, 0.55, 0.85, 1, 1, 1, 1, 1],
]
wf1_mid_25_ori = [
    [0, 0, 0.30, 0.20, 0.08, 0.03, 0.01, 0, 0, 0, 0],
    [0, 0, 0.32, 0.22, 0.09, 0.03, 0, 0, 0, 0, 0],
    [0, 0, 0.28, 0.20, 0.08, 0.03, 0, 0, 0, 0, 0],
    [0, 0, 0.25, 0.18, 0.07, 0.02, 0, 0, 0, 0, 0],
    [0, 0, 0, 0, 0, 0, 0, 0, 0, 0, 0],
    [0, 0, 0.45, 0.35, 0.16, 0.07, 0.02, 0, 0, 0, 0],
]
wf1_mid_25_eur = [
    [1, 1, 0.70, 0.78, 0.57, 0.29, 0.05, 0, 0, 0, 0],
    [1, 1, 0.68, 0.75, 0.51, 0.25, 0.04, 0, 0, 0, 0],
    [1, 1, 0.72, 0.78, 0.55, 0.27, 0.05, 0, 0, 0, 0],
    [1, 1, 0.75, 0.79, 0.53, 0.26, 0.04, 0, 0, 0, 0],
    [1, 1, 0.50, 0.60, 0.35, 0.10, 0, 0, 0, 0, 0],
    [1, 1, 0.90, 0.95, 0.75, 0.50, 0.20, 0.05, 0.02, 0, 0],
]

wf1_hi_25_hyb = [
    [0, 0, 0, 0.05, 0.45, 0.80, 0.98, 1, 1, 1, 1],
    [0, 0, 0, 0.06, 0.50, 0.84, 0.99, 1, 1, 1, 1],
    [0, 0, 0, 0.05, 0.47, 0.82, 0.98, 1, 1, 1, 1],
    [0, 0, 0, 0.06, 0.50, 0.83, 0.99, 1, 1, 1, 1],
    [0, 0, 0, 0, 0.28, 0.65, 0.93, 1, 1, 1, 1],
    [0, 0, 0, 0.15, 0.65, 0.95, 1, 1, 1, 1, 1],
]
wf1_hi_25_ori = [
    [0, 0, 0.30, 0.18, 0.06, 0.02, 0, 0, 0, 0, 0],
    [0, 0, 0.32, 0.20, 0.07, 0.02, 0, 0, 0, 0, 0],
    [0, 0, 0.28, 0.18, 0.06, 0.02, 0, 0, 0, 0, 0],
    [0, 0, 0.25, 0.16, 0.05, 0.01, 0, 0, 0, 0, 0],
    [0, 0, 0, 0, 0, 0, 0, 0, 0, 0, 0],
    [0, 0, 0.45, 0.32, 0.14, 0.05, 0.01, 0, 0, 0, 0],
]
wf1_hi_25_eur = [
    [1, 1, 0.70, 0.77, 0.49, 0.18, 0.02, 0, 0, 0, 0],
    [1, 1, 0.68, 0.74, 0.43, 0.14, 0.01, 0, 0, 0, 0],
    [1, 1, 0.72, 0.77, 0.47, 0.16, 0.02, 0, 0, 0, 0],
    [1, 1, 0.75, 0.78, 0.45, 0.16, 0.01, 0, 0, 0, 0],
    [1, 1, 0.50, 0.58, 0.28, 0.05, 0, 0, 0, 0, 0],
    [1, 1, 0.90, 0.95, 0.70, 0.38, 0.08, 0.01, 0, 0, 0],
]

# ---------------- 40 % ----------------
neu_40_hyb = [
    [0, 0, 0, 0, 0.12, 0.32, 0.67, 0.90, 0.98, 1, 1],
    [0, 0, 0, 0, 0.15, 0.36, 0.72, 0.93, 0.99, 1, 1],
    [0, 0, 0, 0, 0.16, 0.38, 0.74, 0.94, 0.99, 1, 1],
    [0, 0, 0, 0, 0.14, 0.35, 0.70, 0.92, 0.98, 1, 1],
    [0, 0, 0, 0, 0.05, 0.18, 0.50, 0.80, 0.92, 0.96, 0.96],
    [0, 0, 0, 0.04, 0.28, 0.55, 0.85, 0.99, 1, 1, 1],
]
neu_40_ori = [
    [0, 0, 0.55, 0.38, 0.26, 0.13, 0.04, 0.01, 0, 0, 0],
    [0, 0, 0.60, 0.40, 0.27, 0.14, 0.04, 0.01, 0, 0, 0],
    [0, 0, 0.62, 0.42, 0.28, 0.15, 0.05, 0.01, 0, 0, 0],
    [0, 0, 0.50, 0.36, 0.24, 0.12, 0.04, 0.01, 0, 0, 0],
    [0, 0, 0.30, 0.20, 0.12, 0.04, 0, 0, 0, 0, 0],
    [0, 0, 0.75, 0.60, 0.45, 0.28, 0.12, 0.03, 0, 0, 0],
]
neu_40_eur = [
    [1, 1, 0.45, 0.72, 0.60, 0.45, 0.20, 0.06, 0.01, 0, 0],
    [1, 1, 0.40, 0.62, 0.48, 0.32, 0.12, 0.03, 0.01, 0, 0],
    [1, 1, 0.38, 0.58, 0.45, 0.30, 0.10, 0.03, 0, 0, 0],
    [1, 1, 0.50, 0.68, 0.55, 0.40, 0.16, 0.05, 0.01, 0, 0],
    [1, 1, 0.20, 0.40, 0.30, 0.18, 0.04, 0, 0, 0, 0],
    [1, 1, 0.75, 0.90, 0.80, 0.65, 0.40, 0.18, 0.06, 0.03, 0.03],
]

wori_lo_40_hyb = [
    [0, 0, 0, 0, 0.22, 0.42, 0.60, 0.76, 0.85, 0.88, 0.88],
    [0, 0, 0, 0, 0.24, 0.44, 0.62, 0.77, 0.85, 0.87, 0.87],
    [0, 0, 0, 0.02, 0.26, 0.46, 0.63, 0.77, 0.84, 0.87, 0.88],
    [0, 0, 0, 0, 0.21, 0.41, 0.58, 0.74, 0.83, 0.86, 0.86],
    [0, 0, 0, 0, 0.08, 0.22, 0.42, 0.58, 0.62, 0.62, 0.62],
    [0, 0, 0, 0.10, 0.42, 0.62, 0.80, 0.92, 0.95, 0.95, 0.95],
]
wori_lo_40_ori = [
    [0, 0, 0.72, 0.68, 0.66, 0.56, 0.40, 0.24, 0.15, 0.12, 0.11],
    [0, 0, 0.75, 0.70, 0.64, 0.55, 0.39, 0.23, 0.15, 0.13, 0.12],
    [0, 0, 0.80, 0.70, 0.63, 0.53, 0.37, 0.22, 0.16, 0.13, 0.11],
    [0, 0, 0.70, 0.66, 0.65, 0.57, 0.41, 0.26, 0.17, 0.14, 0.13],
    [0, 0, 0.50, 0.50, 0.46, 0.36, 0.20, 0.08, 0.04, 0.03, 0.03],
    [0, 0, 0.90, 0.86, 0.82, 0.75, 0.62, 0.45, 0.36, 0.33, 0.32],
]
wori_lo_40_eur = [
    [1, 1, 0.28, 0.20, 0.05, 0.01, 0, 0, 0, 0, 0],
    [1, 1, 0.25, 0.18, 0.04, 0, 0, 0, 0, 0, 0],
    [1, 1, 0.20, 0.15, 0.04, 0, 0, 0, 0, 0, 0],
    [1, 1, 0.30, 0.22, 0.05, 0, 0, 0, 0, 0, 0],
    [1, 1, 0.05, 0.02, 0, 0, 0, 0, 0, 0, 0],
    [1, 1, 0.55, 0.45, 0.15, 0.02, 0, 0, 0, 0, 0],
]

wori_mid_40_hyb = [
    [0, 0, 0, 0.02, 0.15, 0.28, 0.44, 0.56, 0.64, 0.66, 0.57],
    [0, 0, 0, 0.02, 0.16, 0.30, 0.44, 0.51, 0.53, 0.53, 0.52],
    [0, 0, 0, 0.03, 0.20, 0.35, 0.52, 0.65, 0.68, 0.67, 0.66],
    [0, 0, 0, 0.02, 0.15, 0.28, 0.42, 0.50, 0.52, 0.52, 0.50],
    [0, 0, 0, 0, 0.05, 0.10, 0.20, 0.25, 0.27, 0.27, 0.25],
    [0, 0, 0, 0.12, 0.35, 0.52, 0.68, 0.78, 0.82, 0.83, 0.83],
]
wori_mid_40_ori = [
    [0, 0, 0.85, 0.87, 0.82, 0.72, 0.56, 0.45, 0.38, 0.39, 0.46],
    [0, 0, 0.86, 0.86, 0.80, 0.70, 0.55, 0.48, 0.46, 0.46, 0.47],
    [0, 0, 0.84, 0.85, 0.78, 0.65, 0.48, 0.37, 0.33, 0.33, 0.33],
    [0, 0, 0.86, 0.87, 0.81, 0.71, 0.56, 0.48, 0.46, 0.47, 0.48],
    [0, 0, 0.65, 0.66, 0.58, 0.45, 0.32, 0.25, 0.22, 0.22, 0.22],
    [0, 0, 1, 1, 0.96, 0.90, 0.80, 0.74, 0.72, 0.72, 0.72],
]
wori_mid_40_eur = [
    [1, 1, 0.15, 0.05, 0.01, 0, 0, 0, 0, 0, 0],
    [1, 1, 0.14, 0.04, 0.01, 0, 0, 0, 0, 0, 0],
    [1, 1, 0.16, 0.05, 0.01, 0, 0, 0, 0, 0, 0],
    [1, 1, 0.12, 0.04, 0, 0, 0, 0, 0, 0, 0],
    [1, 1, 0.03, 0, 0, 0, 0, 0, 0, 0, 0],
    [1, 1, 0.35, 0.15, 0.03, 0, 0, 0, 0, 0, 0],
]

wori_hi_40_hyb = [
    [0, 0, 0, 0.02, 0.04, 0.06, 0.08, 0.10, 0.10, 0.09, 0.07],
    [0, 0, 0, 0.02, 0.05, 0.08, 0.11, 0.13, 0.14, 0.15, 0.13],
    [0, 0, 0, 0.03, 0.08, 0.12, 0.20, 0.24, 0.24, 0.24, 0.22],
    [0, 0, 0, 0.02, 0.04, 0.07, 0.09, 0.11, 0.12, 0.12, 0.10],
    [0, 0, 0, 0, 0, 0.01, 0.02, 0.03, 0.03, 0.03, 0.03],
    [0, 0, 0, 0.10, 0.20, 0.30, 0.40, 0.46, 0.48, 0.50, 0.50],
]
wori_hi_40_ori = [
    [0, 0, 0.98, 0.97, 0.96, 0.94, 0.91, 0.90, 0.88, 0.90, 0.93],
    [0, 0, 0.98, 0.97, 0.95, 0.92, 0.89, 0.87, 0.86, 0.85, 0.87],
    [0, 0, 0.97, 0.96, 0.92, 0.88, 0.80, 0.76, 0.76, 0.76, 0.78],
    [0, 0, 0.98, 0.97, 0.95, 0.93, 0.90, 0.88, 0.87, 0.88, 0.90],
    [0, 0, 0.80, 0.78, 0.72, 0.65, 0.55, 0.50, 0.48, 0.48, 0.50],
    [0, 0, 1, 1, 1, 1, 1, 1, 1, 1, 1],
]
wori_hi_40_eur = [
    [1, 1, 0.02, 0, 0, 0, 0, 0, 0, 0, 0],
    [1, 1, 0.02, 0, 0, 0, 0, 0, 0, 0, 0],
    [1, 1, 0.03, 0, 0, 0, 0, 0, 0, 0, 0],
    [1, 1, 0.01, 0, 0, 0, 0, 0, 0, 0, 0],
    [1, 1, 0, 0, 0, 0, 0, 0, 0, 0, 0],
    [1, 1, 0.10, 0.02, 0, 0, 0, 0, 0, 0, 0],
]

weu_lo_40_hyb = [
    [0, 0, 0, 0.01, 0.02, 0.06, 0.13, 0.26, 0.32, 0.34, 0.36],
    [0, 0, 0, 0.01, 0.05, 0.12, 0.28, 0.47, 0.57, 0.59, 0.58],
    [0, 0, 0, 0.02, 0.12, 0.25, 0.50, 0.68, 0.76, 0.76, 0.75],
    [0, 0, 0, 0.01, 0.04, 0.10, 0.22, 0.38, 0.45, 0.47, 0.47],
    [0, 0, 0, 0, 0, 0.01, 0.03, 0.06, 0.08, 0.08, 0.08],
    [0, 0, 0.02, 0.12, 0.30, 0.45, 0.68, 0.82, 0.90, 0.92, 0.92],
]
weu_lo_40_ori = [
    [0, 0, 0.35, 0.10, 0.01, 0, 0, 0, 0, 0, 0],
    [0, 0, 0.38, 0.12, 0.02, 0, 0, 0, 0, 0, 0],
    [0, 0, 0.32, 0.10, 0.01, 0, 0, 0, 0, 0, 0],
    [0, 0, 0.30, 0.08, 0.01, 0, 0, 0, 0, 0, 0],
    [0, 0, 0, 0, 0, 0, 0, 0, 0, 0, 0],
    [0, 0, 0.55, 0.25, 0.05, 0.01, 0, 0, 0, 0, 0],
]
weu_lo_40_eur = [
    [1, 1, 0.63, 0.92, 0.95, 0.92, 0.86, 0.76, 0.69, 0.69, 0.67],
    [1, 1, 0.60, 0.88, 0.90, 0.84, 0.72, 0.56, 0.45, 0.42, 0.41],
    [1, 1, 0.65, 0.88, 0.86, 0.76, 0.53, 0.35, 0.28, 0.27, 0.27],
    [1, 1, 0.68, 0.90, 0.92, 0.86, 0.77, 0.62, 0.53, 0.51, 0.51],
    [1, 1, 0.45, 0.72, 0.65, 0.52, 0.32, 0.18, 0.13, 0.12, 0.12],
    [1, 1, 1, 1, 1, 1, 0.99, 0.97, 0.96, 0.96, 0.96],
]

weu_mid_40_hyb = [
    [0, 0, 0, 0.01, 0.02, 0.02, 0.01, 0.01, 0, 0, 0],
    [0, 0, 0, 0.01, 0.03, 0.06, 0.10, 0.20, 0.25, 0.23, 0.25],
    [0, 0, 0, 0.03, 0.08, 0.13, 0.22, 0.35, 0.40, 0.40, 0.42],
    [0, 0, 0, 0.01, 0.03, 0.05, 0.08, 0.09, 0.09, 0.08, 0.06],
    [0, 0, 0, 0, 0, 0, 0, 0, 0, 0, 0],
    [0, 0, 0.02, 0.10, 0.22, 0.32, 0.43, 0.50, 0.52, 0.55, 0.55],
]
weu_mid_40_ori = [
    [0, 0, 0.20, 0.05, 0.01, 0, 0, 0, 0, 0, 0],
    [0, 0, 0.25, 0.06, 0.01, 0, 0, 0, 0, 0, 0],
    [0, 0, 0.22, 0.05, 0.01, 0, 0, 0, 0, 0, 0],
    [0, 0, 0.18, 0.04, 0.01, 0, 0, 0, 0, 0, 0],
    [0, 0, 0, 0, 0, 0, 0, 0, 0, 0, 0],
    [0, 0, 0.35, 0.15, 0.04, 0.01, 0, 0, 0, 0, 0],
]
weu_mid_40_eur = [
    [1, 1, 0.80, 0.96, 0.98, 0.98, 0.99, 1, 1, 1, 1],
    [1, 1, 0.75, 0.92, 0.90, 0.85, 0.80, 0.77, 0.76, 0.78, 0.76],
    [1, 1, 0.78, 0.90, 0.86, 0.80, 0.71, 0.63, 0.62, 0.63, 0.65],
    [1, 1, 0.82, 0.94, 0.92, 0.91, 0.91, 0.90, 0.91, 0.92, 0.94],
    [1, 1, 0.60, 0.82, 0.70, 0.60, 0.50, 0.45, 0.45, 0.45, 0.45],
    [1, 1, 1, 1, 1, 1, 1, 1, 1, 1, 1],
]

weu_hi_40_hyb = [
    [0, 0, 0, 0, 0, 0, 0, 0, 0, 0, 0],
    [0, 0, 0, 0, 0, 0.01, 0.01, 0.01, 0.01, 0.01, 0.01],
    [0, 0, 0, 0, 0.01, 0.03, 0.05, 0.07, 0.08, 0.09, 0.08],
    [0, 0, 0, 0, 0, 0, 0, 0, 0, 0, 0],
    [0, 0, 0, 0, 0, 0, 0, 0, 0, 0, 0],
    [0, 0, 0, 0.03, 0.06, 0.10, 0.15, 0.22, 0.27, 0.30, 0.30],
]
weu_hi_40_ori = [
    [0, 0, 0.05, 0.01, 0, 0, 0, 0, 0, 0, 0],
    [0, 0, 0.04, 0.01, 0, 0, 0, 0, 0, 0, 0],
    [0, 0, 0.04, 0.01, 0, 0, 0, 0, 0, 0, 0],
    [0, 0, 0.03, 0, 0, 0, 0, 0, 0, 0, 0],
    [0, 0, 0, 0, 0, 0, 0, 0, 0, 0, 0],
    [0, 0, 0.08, 0.02, 0, 0, 0, 0, 0, 0, 0],
]
weu_hi_40_eur = [
    [1, 1, 1, 1, 1, 1, 1, 1, 1, 1, 1],
    [1, 1, 0.98, 0.99, 0.99, 0.99, 0.99, 0.99, 0.99, 0.99, 0.99],
    [1, 1, 0.97, 0.96, 0.95, 0.94, 0.93, 0.92, 0.92, 0.93, 0.94],
    [1, 1, 0.99, 1, 1, 1, 1, 1, 1, 1, 1],
    [1, 1, 0.98, 0.95, 0.90, 0.85, 0.80, 0.75, 0.72, 0.70, 0.72],
    [1, 1, 1, 1, 1, 1, 1, 1, 1, 1, 1],
]

wf1_lo_40_hyb = [
    [0, 0, 0, 0.02, 0.33, 0.62, 0.90, 0.99, 1, 1, 1],
    [0, 0, 0, 0.03, 0.36, 0.66, 0.92, 1, 1, 1, 1],
    [0, 0, 0, 0.02, 0.34, 0.64, 0.91, 1, 1, 1, 1],
    [0, 0, 0, 0.03, 0.37, 0.67, 0.93, 1, 1, 1, 1],
    [0, 0, 0, 0, 0.18, 0.48, 0.82, 0.97, 1, 1, 1],
    [0, 0, 0, 0.10, 0.52, 0.80, 0.99, 1, 1, 1, 1],
]
wf1_lo_40_ori = [
    [0, 0, 0.38, 0.28, 0.14, 0.04, 0.01, 0, 0, 0, 0],
    [0, 0, 0.40, 0.30, 0.15, 0.05, 0.01, 0, 0, 0, 0],
    [0, 0, 0.35, 0.26, 0.13, 0.04, 0.01, 0, 0, 0, 0],
    [0, 0, 0.34, 0.26, 0.12, 0.04, 0.01, 0, 0, 0, 0],
    [0, 0, 0, 0, 0, 0, 0, 0, 0, 0, 0],
    [0, 0, 0.55, 0.45, 0.28, 0.12, 0.03, 0, 0, 0, 0],
]
wf1_lo_40_eur = [
    [1, 1, 0.62, 0.70, 0.53, 0.34, 0.09, 0.01, 0, 0, 0],
    [1, 1, 0.60, 0.67, 0.49, 0.29, 0.07, 0, 0, 0, 0],
    [1, 1, 0.65, 0.72, 0.53, 0.32, 0.08, 0, 0, 0, 0],
    [1, 1, 0.66, 0.72, 0.51, 0.29, 0.06, 0, 0, 0, 0],
    [1, 1, 0.45, 0.52, 0.35, 0.15, 0.02, 0, 0, 0, 0],
    [1, 1, 0.80, 0.85, 0.70, 0.50, 0.20, 0.05, 0.01, 0, 0],
]

wf1_mid_40_hyb = [
    [0, 0, 0, 0.04, 0.40, 0.72, 0.95, 1, 1, 1, 1],
    [0, 0, 0, 0.05, 0.44, 0.76, 0.97, 1, 1, 1, 1],
    [0, 0, 0, 0.04, 0.42, 0.74, 0.96, 1, 1, 1, 1],
    [0, 0, 0, 0.05, 0.45, 0.77, 0.97, 1, 1, 1, 1],
    [0, 0, 0, 0, 0.22, 0.55, 0.88, 0.99, 1, 1, 1],
    [0, 0, 0, 0.15, 0.60, 0.90, 1, 1, 1, 1, 1],
]
wf1_mid_40_ori = [
    [0, 0, 0.38, 0.26, 0.12, 0.04, 0.01, 0, 0, 0, 0],
    [0, 0, 0.40, 0.28, 0.13, 0.04, 0.01, 0, 0, 0, 0],
    [0, 0, 0.35, 0.25, 0.11, 0.04, 0.01, 0, 0, 0, 0],
    [0, 0, 0.34, 0.24, 0.10, 0.03, 0, 0, 0, 0, 0],
    [0, 0, 0, 0, 0, 0, 0, 0, 0, 0, 0],
    [0, 0, 0.55, 0.42, 0.25, 0.10, 0.02, 0, 0, 0, 0],
]
wf1_mid_40_eur = [
    [1, 1, 0.62, 0.70, 0.48, 0.24, 0.04, 0, 0, 0, 0],
    [1, 1, 0.60, 0.67, 0.43, 0.20, 0.03, 0, 0, 0, 0],
    [1, 1, 0.65, 0.71, 0.47, 0.22, 0.04, 0, 0, 0, 0],
    [1, 1, 0.66, 0.71, 0.45, 0.20, 0.03, 0, 0, 0, 0],
    [1, 1, 0.45, 0.50, 0.30, 0.08, 0, 0, 0, 0, 0],
    [1, 1, 0.80, 0.88, 0.68, 0.42, 0.12, 0.02, 0, 0, 0],
]

wf1_hi_40_hyb = [
    [0, 0, 0, 0.06, 0.50, 0.84, 0.99, 1, 1, 1, 1],
    [0, 0, 0, 0.08, 0.55, 0.87, 1, 1, 1, 1, 1],
    [0, 0, 0, 0.06, 0.52, 0.85, 0.99, 1, 1, 1, 1],
    [0, 0, 0, 0.07, 0.55, 0.87, 1, 1, 1, 1, 1],
    [0, 0, 0, 0, 0.30, 0.68, 0.95, 1, 1, 1, 1],
    [0, 0, 0, 0.20, 0.70, 0.97, 1, 1, 1, 1, 1],
]
wf1_hi_40_ori = [
    [0, 0, 0.38, 0.24, 0.10, 0.03, 0, 0, 0, 0, 0],
    [0, 0, 0.40, 0.26, 0.11, 0.03, 0, 0, 0, 0, 0],
    [0, 0, 0.35, 0.23, 0.10, 0.03, 0, 0, 0, 0, 0],
    [0, 0, 0.34, 0.22, 0.09, 0.02, 0, 0, 0, 0, 0],
    [0, 0, 0, 0, 0, 0, 0, 0, 0, 0, 0],
    [0, 0, 0.55, 0.40, 0.22, 0.08, 0.01, 0, 0, 0, 0],
]
wf1_hi_40_eur = [
    [1, 1, 0.62, 0.70, 0.40, 0.13, 0.01, 0, 0, 0, 0],
    [1, 1, 0.60, 0.66, 0.34, 0.10, 0, 0, 0, 0, 0],
    [1, 1, 0.65, 0.70, 0.38, 0.12, 0.01, 0, 0, 0, 0],
    [1, 1, 0.66, 0.71, 0.36, 0.11, 0, 0, 0, 0, 0],
    [1, 1, 0.45, 0.50, 0.20, 0.03, 0, 0, 0, 0, 0],
    [1, 1, 0.80, 0.88, 0.60, 0.30, 0.05, 0, 0, 0, 0],
]

row_labels = ["10%", "25%", "40%"]
group_labels = ["Wori > Wf1 > Weu", "Weu > Wf1 > Wori", "Wf1 > Weu = Wori"]
selection_labels = ["Low\nselection", "Intermediate\nselection", "High\nselection"]
configs = ["Dispersed", "Multiple clusters", "Single cluster", "Transects"]
genotypes = ["Hybrids", "Oriental beech", "European beech"]
colors = ["#288B8B", "#4B2A7B", "#FFCB05"]
dashes = [(None, None), (3.0, 2.2), (0.9, 1.9), (6.0, 2.2)]

grid = [
    [(neu_10_hyb, neu_10_ori, neu_10_eur),
     (wori_lo_10_hyb, wori_lo_10_ori, wori_lo_10_eur),
     (wori_mid_10_hyb, wori_mid_10_ori, wori_mid_10_eur),
     (wori_hi_10_hyb, wori_hi_10_ori, wori_hi_10_eur),
     (weu_lo_10_hyb, weu_lo_10_ori, weu_lo_10_eur),
     (weu_mid_10_hyb, weu_mid_10_ori, weu_mid_10_eur),
     (weu_hi_10_hyb, weu_hi_10_ori, weu_hi_10_eur),
     (wf1_lo_10_hyb, wf1_lo_10_ori, wf1_lo_10_eur),
     (wf1_mid_10_hyb, wf1_mid_10_ori, wf1_mid_10_eur),
     (wf1_hi_10_hyb, wf1_hi_10_ori, wf1_hi_10_eur)],
    [(neu_25_hyb, neu_25_ori, neu_25_eur),
     (wori_lo_25_hyb, wori_lo_25_ori, wori_lo_25_eur),
     (wori_mid_25_hyb, wori_mid_25_ori, wori_mid_25_eur),
     (wori_hi_25_hyb, wori_hi_25_ori, wori_hi_25_eur),
     (weu_lo_25_hyb, weu_lo_25_ori, weu_lo_25_eur),
     (weu_mid_25_hyb, weu_mid_25_ori, weu_mid_25_eur),
     (weu_hi_25_hyb, weu_hi_25_ori, weu_hi_25_eur),
     (wf1_lo_25_hyb, wf1_lo_25_ori, wf1_lo_25_eur),
     (wf1_mid_25_hyb, wf1_mid_25_ori, wf1_mid_25_eur),
     (wf1_hi_25_hyb, wf1_hi_25_ori, wf1_hi_25_eur)],
    [(neu_40_hyb, neu_40_ori, neu_40_eur),
     (wori_lo_40_hyb, wori_lo_40_ori, wori_lo_40_eur),
     (wori_mid_40_hyb, wori_mid_40_ori, wori_mid_40_eur),
     (wori_hi_40_hyb, wori_hi_40_ori, wori_hi_40_eur),
     (weu_lo_40_hyb, weu_lo_40_ori, weu_lo_40_eur),
     (weu_mid_40_hyb, weu_mid_40_ori, weu_mid_40_eur),
     (weu_hi_40_hyb, weu_hi_40_ori, weu_hi_40_eur),
     (wf1_lo_40_hyb, wf1_lo_40_ori, wf1_lo_40_eur),
     (wf1_mid_40_hyb, wf1_mid_40_ori, wf1_mid_40_eur),
     (wf1_hi_40_hyb, wf1_hi_40_ori, wf1_hi_40_eur)],
]

W, H = 1203, 667
fig = plt.figure(figsize=(W / 100, H / 100), dpi=100)

# layout in pixels
col_left = [48 + 113.7 * c for c in range(10)]
row_top = [72, 248.5, 425]
pw, ph = 107.5, 169.5
frame = "#ABABAB"


def add_px_axes(x, y, w, h):
    return fig.add_axes([x / W, 1 - (y + h) / H, w / W, h / H])


for r in range(3):
    for c in range(10):
        ax = add_px_axes(col_left[c], row_top[r], pw, ph)
        ax.set_xlim(-50, 1050)
        ax.set_ylim(-0.05, 1.05)
        for s in ax.spines.values():
            s.set_color(frame)
            s.set_linewidth(0.9)
        ax.set_xticks([0, 250, 500, 750, 1000])
        ax.set_yticks([0, 0.25, 0.5, 0.75, 1.0])
        ax.set_yticklabels(["0.00", "0.25", "0.50", "0.75", "1.00"])
        ax.tick_params(length=2.5, width=0.8, color=frame, labelsize=7,
                       labelcolor="#4D4D4D", pad=1.5)
        if r < 2:
            ax.tick_params(bottom=False, labelbottom=False)
        if c > 0:
            ax.tick_params(left=False, labelleft=False)

        blocks = grid[r][c]
        # replicate spread first, then the envelope of the four configurations
        for g, block in enumerate(blocks):
            lo, hi = block[4], block[5]
            ax.fill_between(years, lo, hi, color=colors[g], alpha=0.13, lw=0)
            arr = np.array(block[:4])
            env_lo = (arr.min(axis=0) + np.array(lo)) / 2
            env_hi = (arr.max(axis=0) + np.array(hi)) / 2
            ax.fill_between(years, env_lo, env_hi, color=colors[g], alpha=0.16, lw=0)
        for g, block in enumerate(blocks):
            for k in range(4):
                line, = ax.plot(years, block[k], color=colors[g], lw=0.85)
                if dashes[k][0] is not None:
                    line.set_dashes(dashes[k])

# overlay for strips, titles and legend, drawn in pixel units
ov = fig.add_axes([0, 0, 1, 1], zorder=-1)
ov.set_xlim(0, W)
ov.set_ylim(H, 0)
ov.axis("off")

strip_size = 11
ov.text(col_left[0] + pw / 2, 15, "Neutral", ha="center", va="center",
        fontsize=strip_size, color="#1A1A1A")
for gi in range(3):
    c0 = 1 + gi * 3
    x0 = col_left[c0]
    x1 = col_left[c0 + 2] + pw
    ov.text((x0 + x1) / 2, 15, group_labels[gi], ha="center", va="center",
            fontsize=strip_size, color="#1A1A1A")
    ov.plot([x0, x1], [31, 31], color="black", lw=2.2, solid_capstyle="butt")
    for si in range(3):
        cx = col_left[c0 + si] + pw / 2
        ov.text(cx, 52, selection_labels[si], ha="center", va="center",
                fontsize=strip_size, color="#1A1A1A", linespacing=0.95)
for r in range(3):
    ov.text(1192, row_top[r] + ph / 2, row_labels[r], ha="center", va="center",
            rotation=270, fontsize=strip_size, color="#1A1A1A")

ov.text(12, (row_top[0] + row_top[2] + ph) / 2, "Proportion", ha="center",
        va="center", rotation=90, fontsize=8.5, color="#1A1A1A")
ov.text((col_left[0] + col_left[9] + pw) / 2, 620, "Year", ha="center",
        va="center", fontsize=8.5, color="#1A1A1A")

# legend
ly = 655
ov.text(245, ly, "Configuration", ha="left", va="center", fontsize=7.2, color="#1A1A1A")
for x, lab, d in zip([316, 393, 494, 584], configs, dashes):
    ov.add_patch(Rectangle((x, ly - 8.5), 20, 17, facecolor="#EBEBEB", edgecolor="none"))
    ln, = ov.plot([x + 2, x + 18], [ly, ly], color="black", lw=1.0)
    if d[0] is not None:
        ln.set_dashes(d)
    ov.text(x + 27, ly, lab, ha="left", va="center", fontsize=6.6, color="#1A1A1A")
ov.text(677, ly, "Genotype", ha="left", va="center", fontsize=7.2, color="#1A1A1A")
for x, lab, col in zip([730, 795, 890], genotypes, colors):
    ov.add_patch(Rectangle((x, ly - 8.5), 20, 17, facecolor=col, alpha=0.12, edgecolor="none"))
    ov.plot([x + 2, x + 18], [ly, ly], color=col, lw=1.0)
    ov.text(x + 26, ly, lab, ha="left", va="center", fontsize=6.6, color="#1A1A1A")

fig.savefig("out.png", dpi=100)
